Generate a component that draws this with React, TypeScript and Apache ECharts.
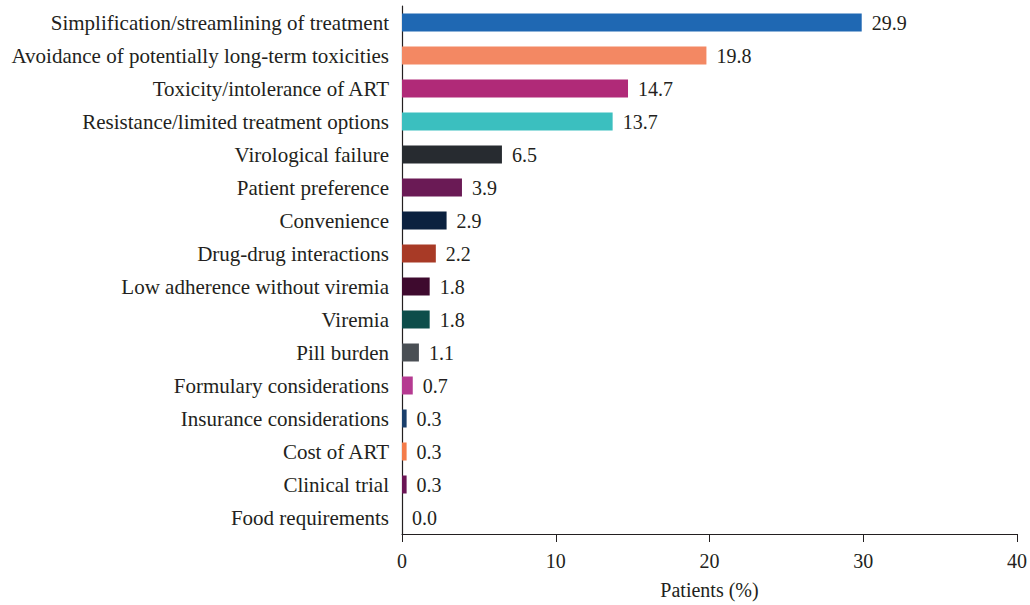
import React, { useEffect, useRef } from "react";
import * as echarts from "echarts";

const categories = [
  "Simplification/streamlining of treatment",
  "Avoidance of potentially long-term toxicities",
  "Toxicity/intolerance of ART",
  "Resistance/limited treatment options",
  "Virological failure",
  "Patient preference",
  "Convenience",
  "Drug-drug interactions",
  "Low adherence without viremia",
  "Viremia",
  "Pill burden",
  "Formulary considerations",
  "Insurance considerations",
  "Cost of ART",
  "Clinical trial",
  "Food requirements",
];
const values = [29.9, 19.8, 14.7, 13.7, 6.5, 3.9, 2.9, 2.2, 1.8, 1.8, 1.1, 0.7, 0.3, 0.3, 0.3, 0.0];
const colors = [
  "#1f68b3", "#f38863", "#b02a78", "#3bbfbf", "#272b30", "#6a1a55", "#0b213f", "#a83a26",
  "#3e0a2e", "#0d4d4a", "#4a4f54", "#b53a91", "#1a3f6b", "#f47c4a", "#6a1555", "#888888",
];
const xTicks = [0, 10, 20, 30, 40];

const FONT = "Liberation Serif";

export default function App() {
  const ref = useRef<HTMLDivElement>(null);
  useEffect(() => {
    if (!ref.current) return;
    const chart = echarts.init(ref.current, undefined, { renderer: "svg" });
    chart.setOption({
      animation: false,
      textStyle: { fontFamily: FONT },
      grid: { left: 402, right: 13, top: 6, bottom: 66, containLabel: false },
      xAxis: {
        type: "value",
        min: xTicks[0],
        max: xTicks[xTicks.length - 1],
        interval: 10,
        name: "Patients (%)",
        nameLocation: "middle",
        nameGap: 46,
        nameTextStyle: { fontFamily: FONT, fontSize: 20, color: "#231f20" },
        axisLine: { show: true, lineStyle: { color: "#231f20", width: 1.2 } },
        axisTick: { show: true, length: 8, lineStyle: { color: "#231f20" } },
        axisLabel: { fontFamily: FONT, fontSize: 20, color: "#231f20", margin: 17 },
        splitLine: { show: false },
      },
      yAxis: {
        type: "category",
        data: categories,
        inverse: true,
        axisLine: { show: true, lineStyle: { color: "#231f20", width: 1.2 } },
        axisTick: { show: false },
        axisLabel: { fontFamily: FONT, fontSize: 21, color: "#231f20", margin: 13 },
      },
      series: [
        {
          type: "bar",
          barWidth: 18,
          data: values.map((v, i) => ({ value: v, itemStyle: { color: colors[i] } })),
          label: {
            show: true,
            position: "right",
            distance: 10,
            fontFamily: FONT,
            fontSize: 20,
            color: "#231f20",
            formatter: (p: any) => Number(p.value).toFixed(1),
          },
        },
      ],
    });
    return () => chart.dispose();
  }, []);
  return <div ref={ref} style={{ width: 1030, height: 605, position: "absolute", left: 0, top: 0 }} />;
}
